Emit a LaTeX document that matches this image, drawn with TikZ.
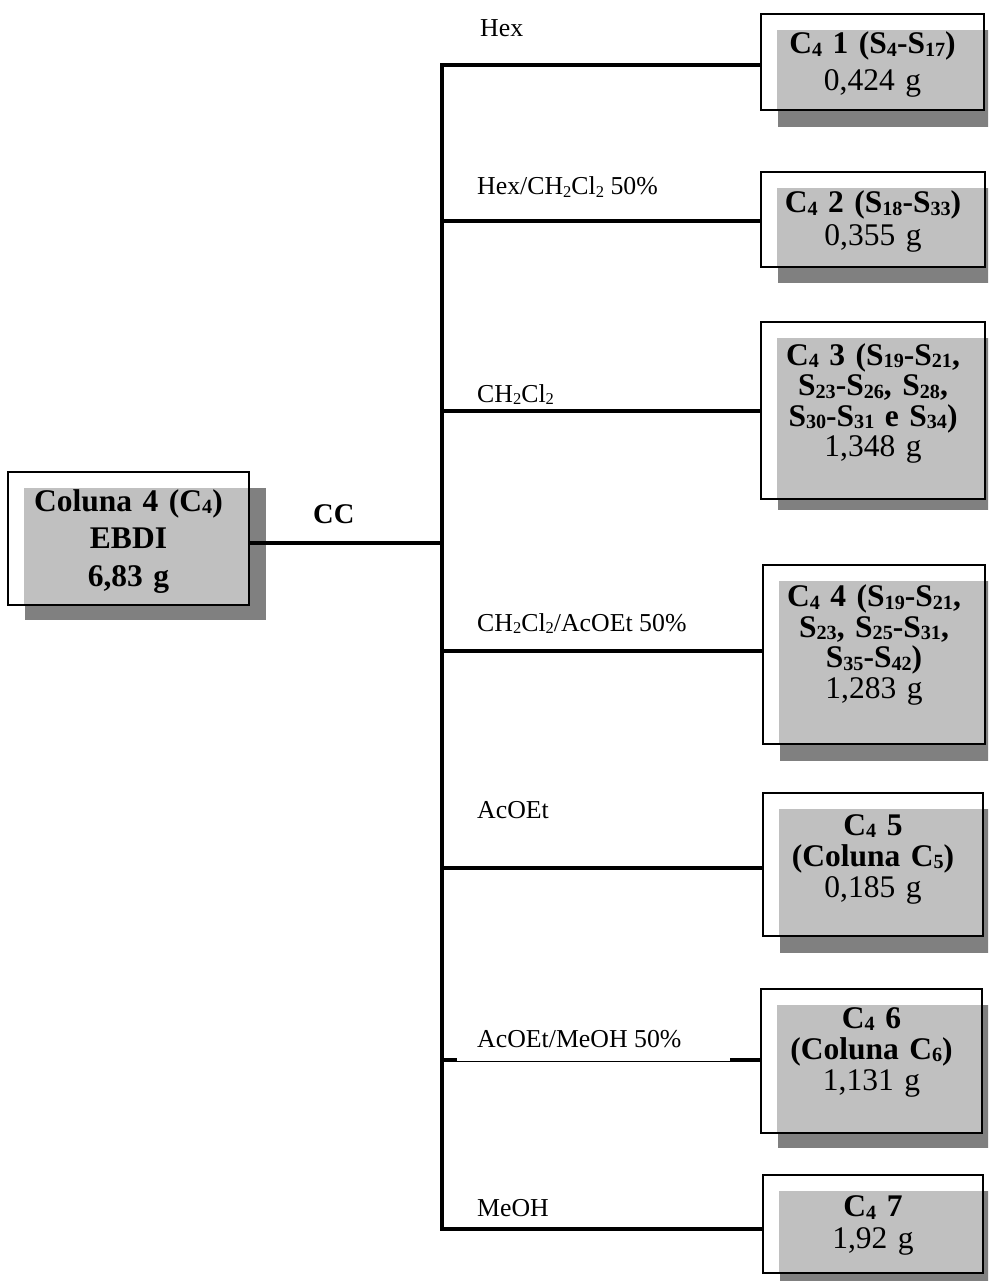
\documentclass[tikz,border=0pt]{standalone}
\usepackage{fontspec}
\setmainfont{Liberation Serif}
\definecolor{boxgray}{HTML}{C0C0C0}
\definecolor{shadowgray}{HTML}{808080}
% lowered, reduced index (C4, S17, ...)
\newcommand\lo[1]{\raisebox{-0.09em}{\scalebox{0.64}{#1}}}
\tikzset{
  framebox/.style={draw=black, line width=1.8pt, inner sep=0pt, outer sep=0pt},
  boxtext/.style={text width=250pt, align=center, inner sep=0pt, anchor=base},
  branch/.style={line width=3.6pt, line join=miter},
  eluent/.style={anchor=base west, inner sep=0pt, font=\fontsize{25.8}{30}\selectfont},
}
% #1 name, #2 x1, #3 y1, #4 x2, #5 y2, #6 first baseline, #7 line skip,
% #8 shadow depth, #9 text
\newcommand\fracbox[9]{%
  \fill[shadowgray] ({#2+17},{#3+16}) rectangle ({#4+17},{#5+#8});
  \fill[boxgray] ({#2+16},{#3+16}) rectangle (#4,#5);
  \node[framebox, minimum width={#4-#2}, minimum height={#5-#3}] (#1) at ({(#2+#4)/2},{(#3+#5)/2}) {};
  \node[boxtext, font={\fontsize{31.5}{#7}\selectfont\lineskiplimit=-100pt\lineskip=0pt}] (#1-text) at ({(#2+#4)/2},#6) {#9};
}
\begin{document}
\begin{tikzpicture}[x=1pt, y=-1pt]
\useasboundingbox[clip] (0,0) rectangle (988,1281);

% source column
\fracbox{src}{8}{472}{249}{605}{511}{37.5}{15}{\bfseries Coluna 4 (C\lo{4})\\EBDI\\6,83 g}

% fractions
\fracbox{b1}{761}{14}{984}{110}{54}{37}{17}{\textbf{C\lo{4} 1 (S\lo{4}-S\lo{17})}\\0,424 g}
\fracbox{b2}{761}{172}{985}{267}{213}{33}{16}{\textbf{C\lo{4} 2 (S\lo{18}-S\lo{33})}\\0,355 g}
\fracbox{b3}{761}{322}{985}{499}{365}{30.5}{11}{\textbf{C\lo{4} 3 (S\lo{19}-S\lo{21},}\\\textbf{S\lo{23}-S\lo{26}, S\lo{28},}\\\textbf{S\lo{30}-S\lo{31} e S\lo{34})}\\1,348 g}
\fracbox{b4}{763}{565}{985}{744}{606.5}{30.5}{17}{\textbf{C\lo{4} 4 (S\lo{19}-S\lo{21},}\\\textbf{S\lo{23}, S\lo{25}-S\lo{31},}\\\textbf{S\lo{35}-S\lo{42})}\\1,283 g}
\fracbox{b5}{763}{793}{983}{936}{835}{31}{17}{\textbf{C\lo{4} 5}\\\textbf{(Coluna C\lo{5})}\\0,185 g}
\fracbox{b6}{761}{989}{982}{1133}{1028}{31}{15}{\textbf{C\lo{4} 6}\\\textbf{(Coluna C\lo{6})}\\1,131 g}
\fracbox{b7}{763}{1175}{983}{1273}{1216.5}{32}{17}{\textbf{C\lo{4} 7}\\1,92 g}

% trunk points
\coordinate (t0) at (442,543);
\coordinate (t1) at (442,65);
\coordinate (t2) at (442,221);
\coordinate (t3) at (442,411);
\coordinate (t4) at (442,651);
\coordinate (t5) at (442,868);
\coordinate (t6) at (442,1060);
\coordinate (t7) at (442,1229);

% connectors
\draw[branch] (t1 -| b1.west) -- (t1) -- (t7) -- (t7 -| b7.west);
\draw[branch] (src.east |- t0) -- (t0);
\draw[branch] (t2) -- (t2 -| b2.west);
\draw[branch] (t3) -- (t3 -| b3.west);
\draw[branch] (t4) -- (t4 -| b4.west);
\draw[branch] (t5) -- (t5 -| b5.west);
\draw[branch] (t6) -- (t6 -| b6.west);
% white label field of the AcOEt/MeOH branch thins the line below it
\fill[white] (457,1054) rectangle (730,1060.5);

% labels
\node[anchor=base west, inner sep=0pt, font=\fontsize{28.5}{32}\selectfont\bfseries] (cc) at (313,523) {CC};
\node[eluent] (e1) at (480,37) {Hex};
\node[eluent] (e2) at (477,195) {Hex/CH\lo{2}Cl\lo{2} 50\%};
\node[eluent] (e3) at (477,402) {CH\lo{2}Cl\lo{2}};
\node[eluent] (e4) at (477,631) {CH\lo{2}Cl\lo{2}/AcOEt 50\%};
\node[eluent] (e5) at (477,818) {AcOEt};
\node[eluent] (e6) at (477,1047) {AcOEt/MeOH 50\%};
\node[eluent] (e7) at (477,1216) {MeOH};
\end{tikzpicture}
\end{document}
